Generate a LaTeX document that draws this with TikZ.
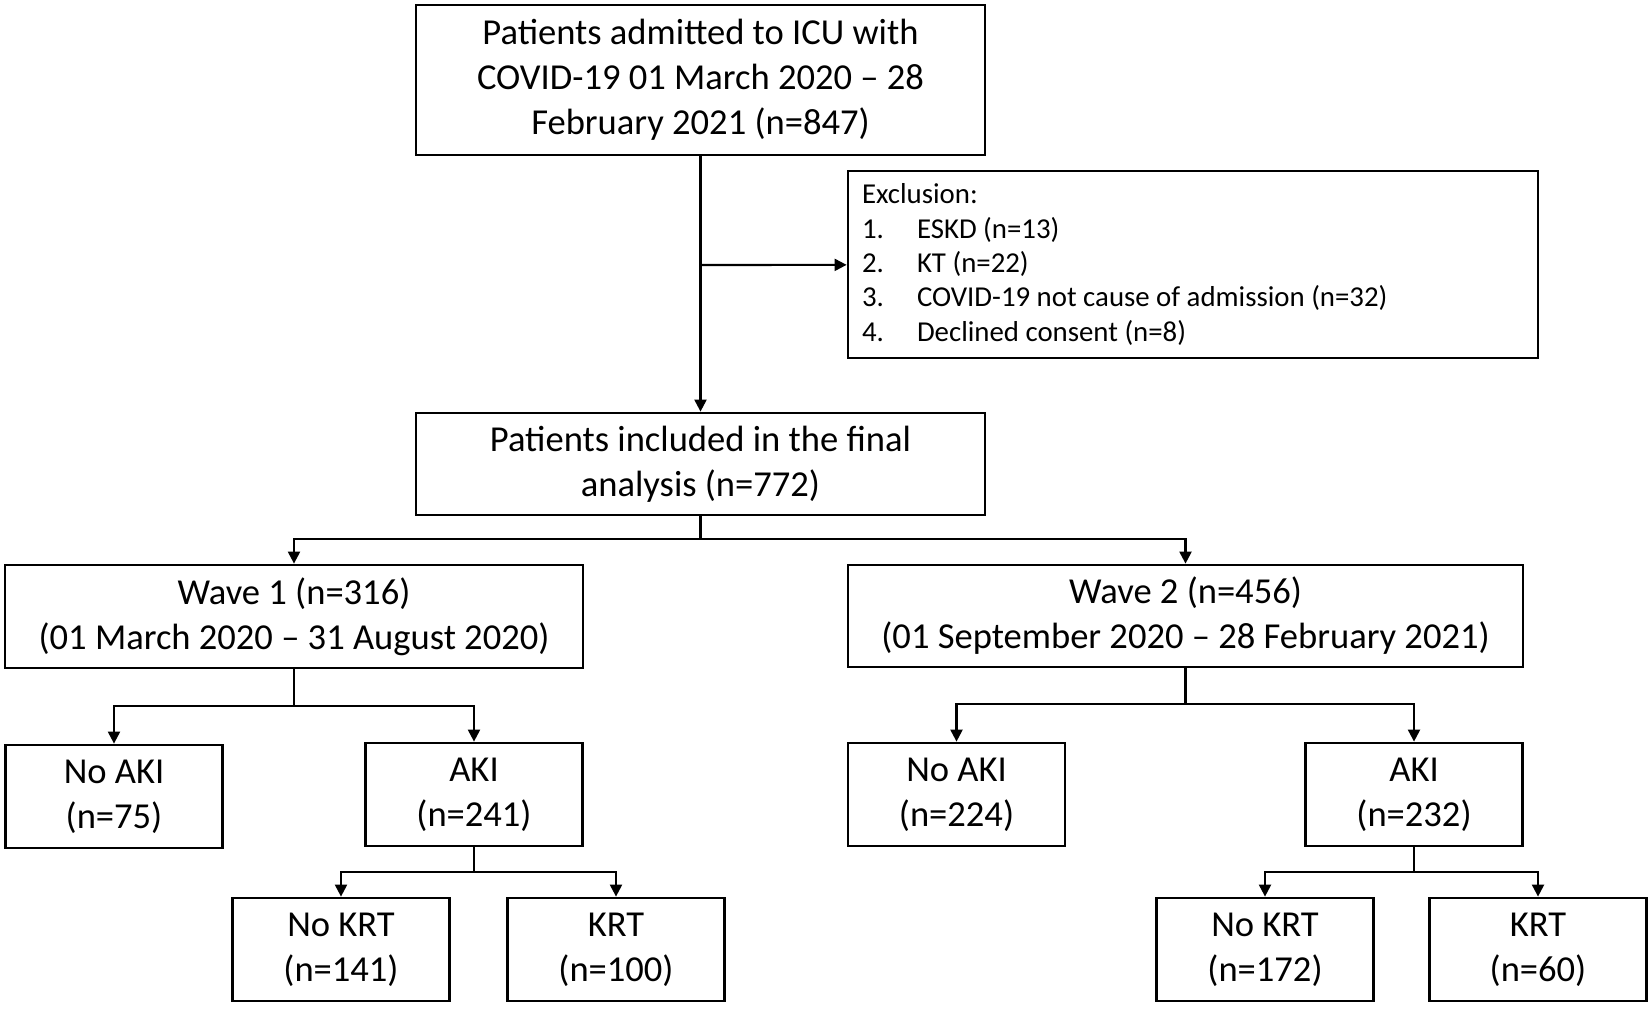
\documentclass[tikz,border=0pt]{standalone}
\usepackage{fontspec}
\setmainfont{Carlito}
\usetikzlibrary{arrows.meta}

\begin{document}
\begin{tikzpicture}[>={Triangle[length=1.2mm, width=1.2mm]}, line width=0.6pt,
		box/.style={draw, line width=0.8pt, align=center, inner sep=0pt, font=\fontsize{10.4}{12.8}\selectfont},
		small/.style={box, minimum width=2.17cm, minimum height=1.03cm}]
		\useasboundingbox (0,0) rectangle (16.52,-10.09);
		
		% Screening
		\node[box, minimum width=5.69cm, minimum height=1.50cm] (admitted) at (7.005,-0.80) {Patients admitted to ICU with\\COVID-19 01 March 2020 -- 28\\February 2021 (n=847)};
		
		\node[box, align=flush left, text width=6.62cm, minimum height=1.87cm, inner xsep=0.14cm, font=\fontsize{8.2}{9.8}\selectfont] (exclusion) at (11.93,-2.645) {Exclusion:\\
			\makebox[0.55cm][l]{1.}ESKD (n=13)\\
			\makebox[0.55cm][l]{2.}KT (n=22)\\
			\makebox[0.55cm][l]{3.}COVID-19 not cause of admission (n=32)\\
			\makebox[0.55cm][l]{4.}Declined consent (n=8)};
		
		\node[box, minimum width=5.69cm, minimum height=1.02cm] (final) at (7.005,-4.64) {Patients included in the final\\analysis (n=772)};
		
		% Waves
		\node[box, minimum width=5.78cm, minimum height=1.03cm] (wave1) at (2.94,-6.165) {Wave 1 (n=316)\\(01 March 2020 -- 31 August 2020)};
		\node[box, minimum width=6.75cm, minimum height=1.02cm] (wave2) at (11.855,-6.16) {Wave 2 (n=456)\\(01 September 2020 -- 28 February 2021)};
		
		% AKI
		\node[small] (noaki1) at (1.14,-7.965) {No AKI\\(n=75)};
		\node[small] (aki1) at (4.74,-7.945) {AKI\\(n=241)};
		\node[small] (noaki2) at (9.565,-7.945) {No AKI\\(n=224)};
		\node[small] (aki2) at (14.14,-7.945) {AKI\\(n=232)};
		
		% KRT
		\node[small] (nokrt1) at (3.41,-9.495) {No KRT\\(n=141)};
		\node[small] (krt1) at (6.16,-9.495) {KRT\\(n=100)};
		\node[small] (nokrt2) at (12.65,-9.495) {No KRT\\(n=172)};
		\node[small] (krt2) at (15.38,-9.495) {KRT\\(n=60)};
		
		% branch points
		\coordinate (split) at (7.005,-2.65);
		\coordinate (fork0) at (7.005,-5.39);
		\coordinate (fork1) at (2.94,-7.06);
		\coordinate (fork2) at (11.855,-7.04);
		\coordinate (fork3) at (4.74,-8.72);
		\coordinate (fork4) at (14.14,-8.72);
		
		% connections
		\draw[->] (admitted) -- (final);
		\draw[->] (split) -- (exclusion);
		
		\foreach \s/\f in {final/fork0, wave1/fork1, wave2/fork2, aki1/fork3, aki2/fork4} {
			\draw (\s) -- (\f);
		}
		
		\foreach \f/\a/\b in {fork0/wave1/wave2, fork1/noaki1/aki1, fork2/noaki2/aki2, fork3/nokrt1/krt1, fork4/nokrt2/krt2} {
			\draw[->] (\f) -| (\a);
			\draw[->] (\f) -| (\b);
		}
	\end{tikzpicture}
\end{document}
